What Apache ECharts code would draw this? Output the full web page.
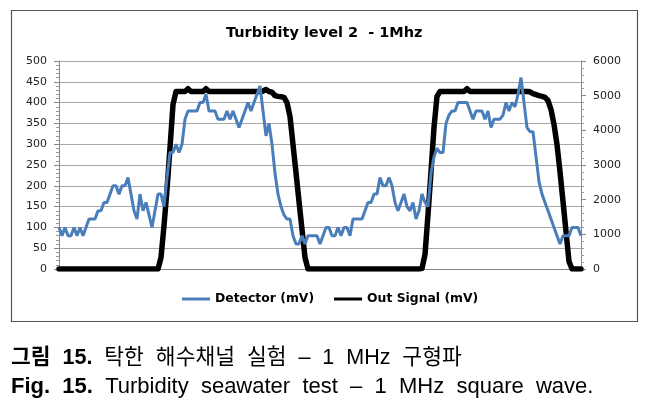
<!DOCTYPE html>
<html>
<head>
<meta charset="utf-8">
<script src="https://cdn.jsdelivr.net/npm/echarts@6/dist/echarts.min.js"></script>
<style>
html,body{margin:0;padding:0;background:#fff;}
#chart{width:658px;height:408px;}
</style>
</head>
<body>
<div id="chart"></div>
<script>
// ---- data ----
const titleText = 'Turbidity level 2  - 1Mhz';
const seriesNames = ['Detector (mV)', 'Out Signal (mV)'];
const leftTicks = [0, 50, 100, 150, 200, 250, 300, 350, 400, 450, 500];
const rightTicks = [0, 1000, 2000, 3000, 4000, 5000, 6000];

const detector = [
  100,80,100,80,80,100,80,100,80,100,
  120,120,120,140,140,160,160,180,200,200,
  180,200,200,220,180,140,120,180,140,160,
  130,100,140,180,180,150,220,280,280,300,
  280,300,360,380,380,380,380,400,400,420,
  380,380,380,360,360,360,380,360,380,360,
  340,360,380,400,380,400,420,440,380,320,
  350,300,230,180,150,130,120,120,80,60,
  60,80,60,80,80,80,80,60,80,100,
  100,80,80,100,80,100,100,80,120,120,
  120,120,140,160,160,180,180,220,200,200,
  220,200,160,140,160,180,150,140,160,120,
  140,180,160,150,230,270,290,280,280,350,
  370,380,380,400,400,400,400,380,360,380,
  380,380,360,380,340,360,360,360,370,400,
  380,400,390,420,460,400,340,330,330,270,
  210,180,160,140,120,100,80,60,80,80,
  80,100,100,100,80
];

const outSignal = [
  0,0,0,0,0,0,0,0,0,0,
  0,0,0,0,0,0,0,0,0,0,
  0,0,0,0,0,0,0,0,0,0,
  0,0,0,0,330,1250,2290,3500,4740,5120,
  5120,5120,5120,5200,5120,5120,5120,5120,5120,5200,
  5120,5120,5120,5120,5120,5120,5120,5120,5120,5120,
  5120,5120,5120,5120,5120,5120,5120,5120,5130,5180,
  5120,5100,5000,4980,4970,4950,4800,4400,3590,2780,
  1950,1140,330,0,0,0,0,0,0,0,
  0,0,0,0,0,0,0,0,0,0,
  0,0,0,0,0,0,0,0,0,0,
  0,0,0,0,0,0,0,0,0,0,
  0,20,420,1570,2810,4080,4980,5120,5120,5120,
  5120,5120,5120,5120,5120,5120,5200,5120,5120,5120,
  5120,5120,5120,5120,5120,5120,5120,5120,5120,5120,
  5120,5120,5120,5120,5120,5120,5120,5110,5060,5030,
  5000,4980,4950,4860,4600,4170,3590,2810,1950,1080,
  215,0,0,0,0
];

const samples = detector.map((_, i) => String(i + 1));

const captionKo = '{b|그림  15.}  탁한  해수채널  실험  –  1  MHz  구형파';
const captionEn = '{b|Fig.  15.}  Turbidity  seawater  test  –  1  MHz  square  wave.';

// ---- chart ----
const chart = echarts.init(document.getElementById('chart'), null, {renderer: 'canvas'});
const axisFont = {fontFamily: 'DejaVu Sans', fontSize: 11, color: '#222'};
const capFont = '"Liberation Sans", "Noto Sans CJK KR", sans-serif';

chart.setOption({
  animation: false,
  backgroundColor: '#fff',
  title: {
    text: titleText,
    left: 226,
    top: 26,
    padding: 0,
    textStyle: {fontFamily: 'DejaVu Sans', fontWeight: 'bold', fontSize: 14.5, color: '#000'}
  },
  legend: {
    data: seriesNames,
    left: 182,
    top: 293,
    padding: 0,
    icon: 'rect',
    itemWidth: 28,
    itemHeight: 3,
    itemGap: 20,
    textStyle: {fontFamily: 'DejaVu Sans', fontWeight: 'bold', fontSize: 12.4, color: '#000'}
  },
  grid: {left: 59, right: 77, top: 61, height: 208, containLabel: false},
  xAxis: {
    type: 'category',
    data: samples,
    boundaryGap: false,
    axisLine: {show: true, lineStyle: {color: '#888', width: 1}},
    axisTick: {show: false},
    axisLabel: {show: false},
    splitLine: {show: false}
  },
  yAxis: [
    {
      type: 'value',
      min: leftTicks[0],
      max: leftTicks[leftTicks.length - 1],
      interval: leftTicks[1] - leftTicks[0],
      position: 'left',
      axisLine: {show: true, lineStyle: {color: '#888', width: 1}},
      axisTick: {show: true, inside: false, length: 5, lineStyle: {color: '#888'}},
      minorTick: {show: true, splitNumber: 5, length: 3, lineStyle: {color: '#999'}},
      axisLabel: Object.assign({margin: 12, formatter: v => String(v)}, axisFont),
      splitLine: {show: true, lineStyle: {color: '#a6a6a6', width: 1}}
    },
    {
      type: 'value',
      min: rightTicks[0],
      max: rightTicks[rightTicks.length - 1],
      interval: rightTicks[1] - rightTicks[0],
      position: 'right',
      axisLine: {show: true, lineStyle: {color: '#888', width: 1}},
      axisTick: {show: true, inside: false, length: 5, lineStyle: {color: '#888'}},
      minorTick: {show: true, splitNumber: 5, length: 3, lineStyle: {color: '#999'}},
      axisLabel: Object.assign({margin: 12, formatter: v => String(v)}, axisFont),
      splitLine: {show: false}
    }
  ],
  series: [
    {
      name: seriesNames[0],
      type: 'line',
      yAxisIndex: 0,
      data: detector,
      symbol: 'none',
      z: 4,
      lineStyle: {color: '#4a7ebb', width: 3},
      itemStyle: {color: '#4a7ebb'}
    },
    {
      name: seriesNames[1],
      type: 'line',
      yAxisIndex: 1,
      data: outSignal,
      symbol: 'none',
      z: 3,
      lineStyle: {color: '#000', width: 5.5, join: 'round', cap: 'round'},
      itemStyle: {color: '#000'}
    }
  ],
  graphic: [
    {
      type: 'rect',
      shape: {x: 11.5, y: 10.5, width: 626, height: 311},
      style: {fill: 'none', stroke: '#555', lineWidth: 1.2},
      silent: true
    },
    {
      type: 'text',
      x: 11, y: 358,
      style: {
        text: captionKo,
        font: '21.5px ' + capFont,
        fill: '#000',
        textVerticalAlign: 'middle',
        rich: {b: {fontWeight: 'bold', fontSize: 21.5, fontFamily: capFont}}
      }
    },
    {
      type: 'text',
      x: 11, y: 387,
      style: {
        text: captionEn,
        font: '22px ' + capFont,
        fill: '#000',
        textVerticalAlign: 'middle',
        rich: {b: {fontWeight: 'bold', fontSize: 22, fontFamily: capFont}}
      }
    }
  ]
});
</script>
</body>
</html>
